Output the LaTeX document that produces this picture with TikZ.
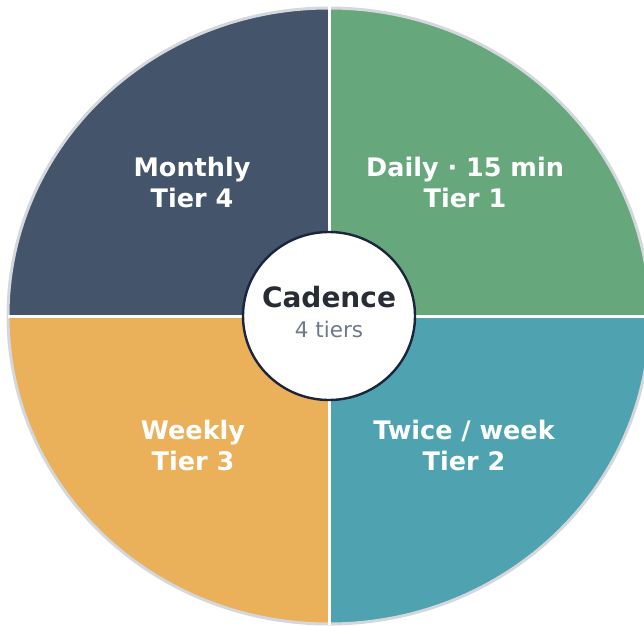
\documentclass[tikz,border=0pt]{standalone}
\usepackage{fontspec}
\setmainfont{DejaVu Sans}
\usetikzlibrary{shapes.geometric,positioning}

\definecolor{tierone}{RGB}{103,167,124}
\definecolor{tiertwo}{RGB}{79,162,176}
\definecolor{tierthree}{RGB}{234,176,90}
\definecolor{tierfour}{RGB}{68,84,106}
\definecolor{rimgrey}{RGB}{212,216,221}
\definecolor{hubnavy}{RGB}{26,38,62}
\definecolor{hubtext}{RGB}{40,44,52}
\definecolor{hubsub}{RGB}{110,122,140}

\begin{document}
\begin{tikzpicture}[
    x=1pt, y=1pt,
    tier/.style={text=white, align=center, font=\fontsize{25.5}{31}\selectfont\bfseries},
    hub/.style={ellipse, draw=hubnavy, line width=2.4pt, fill=white, minimum width=172pt, minimum height=168pt, inner sep=0pt},
    divider/.style={white, line width=3pt},
]
\useasboundingbox (0,0) rectangle (644,625);

% Quadrants of the wheel
\coordinate (c) at (329,309);
\foreach \ang/\col in {0/tierone, 270/tiertwo, 180/tierthree, 90/tierfour}{
  \fill[\col] (c) -- ++(\ang:321 and 308) arc[start angle=\ang, delta angle=90, x radius=321, y radius=308] -- cycle;
}
\draw[rimgrey, line width=3pt] (c) ellipse[x radius=321, y radius=308];

% Dividers
\coordinate (top) at (329,625);
\coordinate (bot) at (329,0);
\coordinate (lft) at (8,309);
\coordinate (rgt) at (644,309);
\draw[divider] (top) -- (bot);
\draw[divider] (lft) -- (rgt);

% Tier labels
\node[tier] (t1) at (465,443) {Daily · 15 min\\Tier 1};
\node[tier] (t2) at (464,180) {Twice / week\\Tier 2};
\node[tier] (t3) at (193,180) {Weekly\\Tier 3};
\node[tier] (t4) at (192,443) {Monthly\\Tier 4};

% Hub
\node[hub] (hub) at (c) {};
\node[font=\fontsize{28}{30}\selectfont\bfseries, text=hubtext] (cad) at (329,328) {Cadence};
\node[font=\fontsize{21.5}{24}\selectfont, text=hubsub] (sub) at (329,296) {4 tiers};

\end{tikzpicture}
\end{document}
